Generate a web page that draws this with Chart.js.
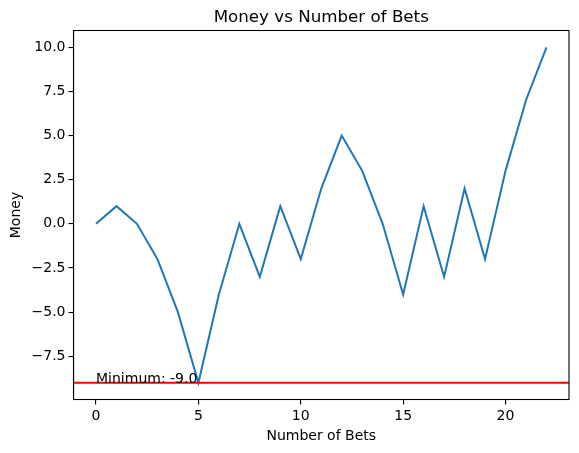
<!DOCTYPE html>
<html>
<head>
<meta charset="utf-8">
<script src="https://cdn.jsdelivr.net/npm/chart.js@4.4.1/dist/chart.umd.min.js"></script>
<style>
  html, body { margin: 0; padding: 0; background: #fff; }
  #wrap { width: 579px; height: 453px; }
</style>
</head>
<body>
<div id="wrap"><canvas id="chart" width="579" height="453"></canvas></div>
<script>
  // Data
  var bets = [0, 1, 2, 3, 4, 5, 6, 7, 8, 9, 10, 11, 12, 13, 14, 15, 16, 17, 18, 19, 20, 21, 22];
  var money = [0, 1, 0, -2, -5, -9, -4, 0, -3, 1, -2, 2, 5, 3, 0, -4, 1, -3, 2, -2, 3, 7, 10];
  var minimum = -9;
  var xTicks = [0, 5, 10, 15, 20];
  var yTicks = [-7.5, -5, -2.5, 0, 2.5, 5, 7.5, 10];

  var FONT = "'DejaVu Sans', sans-serif";

  // matplotlib style 5% margins
  var xMin = -1.1, xMax = 23.1;
  var yMin = -9.95, yMax = 10.95;

  var points = bets.map(function (b, i) { return { x: b, y: money[i] }; });
  var minLine = [{ x: xMin, y: minimum }, { x: xMax, y: minimum }];

  function fmtTick(v) {
    var s = Number(v).toFixed(1);
    return s.replace("-", "\u2212");
  }

  var extras = {
    id: "extras",
    afterDatasetsDraw: function (chart) {
      var ctx = chart.ctx;
      var xs = chart.scales.x, ys = chart.scales.y;
      ctx.save();
      // annotation text
      ctx.fillStyle = "#000";
      ctx.font = "14px " + FONT;
      ctx.textAlign = "left";
      ctx.textBaseline = "alphabetic";
      ctx.fillText("Minimum: " + minimum.toFixed(1), xs.getPixelForValue(0), ys.getPixelForValue(minimum));
      ctx.restore();
    },
    afterDraw: function (chart) {
      var ctx = chart.ctx;
      var a = chart.chartArea;
      ctx.save();
      // spines
      ctx.strokeStyle = "#000";
      ctx.lineWidth = 1.1;
      ctx.strokeRect(a.left, a.top, a.right - a.left, a.bottom - a.top);
      // title
      ctx.fillStyle = "#000";
      ctx.font = "16.7px " + FONT;
      ctx.textAlign = "center";
      ctx.textBaseline = "alphabetic";
      ctx.fillText("Money vs Number of Bets", (a.left + a.right) / 2, 22);
      ctx.restore();
    }
  };

  new Chart(document.getElementById("chart"), {
    type: "line",
    data: {
      datasets: [
        {
          label: "Money",
          data: points,
          borderColor: "#1f77b4",
          borderWidth: 2,
          pointRadius: 0,
          tension: 0,
          fill: false,
          order: 1
        },
        {
          label: "Minimum",
          data: minLine,
          borderColor: "#ff0000",
          borderWidth: 2,
          pointRadius: 0,
          tension: 0,
          fill: false,
          order: 0
        }
      ]
    },
    options: {
      responsive: false,
      animation: false,
      layout: { padding: { top: 30.5, right: 10, left: 0, bottom: 0 } },
      plugins: {
        legend: { display: false },
        title: { display: false },
        tooltip: { enabled: false }
      },
      scales: {
        x: {
          type: "linear",
          min: xMin,
          max: xMax,
          afterBuildTicks: function (scale) {
            scale.ticks = xTicks.map(function (v) { return { value: v }; });
          },
          afterFit: function (scale) { scale.height = 53.5; },
          grid: { drawOnChartArea: false, drawTicks: true, tickLength: 5, color: "#000", lineWidth: 1.1 },
          border: { display: true, color: "#000", width: 1.1 },
          ticks: {
            color: "#000",
            font: { family: FONT, size: 14 },
            padding: 3,
            maxRotation: 0,
            autoSkip: false,
            callback: function (v) { return String(v); }
          },
          title: {
            display: true,
            text: "Number of Bets",
            color: "#000",
            font: { family: FONT, size: 14 },
            padding: { top: 0, bottom: 8 }
          }
        },
        y: {
          type: "linear",
          min: yMin,
          max: yMax,
          afterBuildTicks: function (scale) {
            scale.ticks = yTicks.map(function (v) { return { value: v }; });
          },
          afterFit: function (scale) { scale.width = 73.5; },
          grid: { drawOnChartArea: false, drawTicks: true, tickLength: 5, color: "#000", lineWidth: 1.1 },
          border: { display: true, color: "#000", width: 1.1 },
          ticks: {
            color: "#000",
            font: { family: FONT, size: 14 },
            padding: 3,
            autoSkip: false,
            callback: function (v) { return fmtTick(v); }
          },
          title: {
            display: true,
            text: "Money",
            color: "#000",
            font: { family: FONT, size: 14 },
            padding: { top: 8, bottom: 0 }
          }
        }
      }
    },
    plugins: [extras]
  });
</script>
</body>
</html>
